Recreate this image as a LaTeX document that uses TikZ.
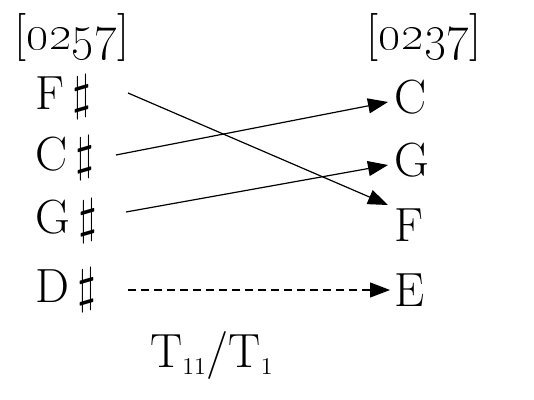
\documentclass[tikz,border=0pt]{standalone}
\usepackage{amsmath}
\usepackage{tikz}
\usetikzlibrary{arrows.meta}

\begin{document}
\begin{tikzpicture}[x=0.5pt,y=-0.5pt,
  pc/.style={font=\fontsize{24}{28}\selectfont,inner sep=1pt},
  arr/.style={-{Triangle[length=10pt,width=7.5pt]},line width=0.6pt}]

  \useasboundingbox (0,0) rectangle (534,400);

  % set labels
  \node[pc] (setL) at (72,38) {[\oldstylenums{0257}]};
  \node[pc] (setR) at (424,38) {[\oldstylenums{0237}]};

  % left column (sharps) and right column
  \foreach \nm/\lbl/\yy in {fs/F/97, cs/C/158, gs/G/221, ds/D/290}
    \node[pc,anchor=west] (\nm) at (33,\yy) {\lbl\,$\sharp$};
  \foreach \nm/\lbl/\yy in {c/C/97, g/G/160, f/F/225, e/E/290}
    \node[pc,anchor=west] (\nm) at (392,\yy) {\lbl};

  % mappings
  \draw[arr] ([xshift=47.5pt,yshift=2pt]fs.west) -- ([xshift=-2pt,yshift=10pt]f.west);
  \draw[arr] ([xshift=41.5pt,yshift=1.5pt]cs.west) -- ([xshift=-2pt,yshift=-2.5pt]c.west);
  \draw[arr] ([xshift=46.5pt,yshift=4.5pt]gs.west) -- ([xshift=-2pt,yshift=-2.5pt]g.west);
  \draw[arr,dash pattern=on 4pt off 2.5pt] ([xshift=47.5pt]ds.west) -- ([xshift=-1pt]e.west);

  % operation
  \node[pc] (op) at (212,355) {T$_{\scriptscriptstyle 11}$/T$_{\scriptscriptstyle 1}$};

\end{tikzpicture}
\end{document}
